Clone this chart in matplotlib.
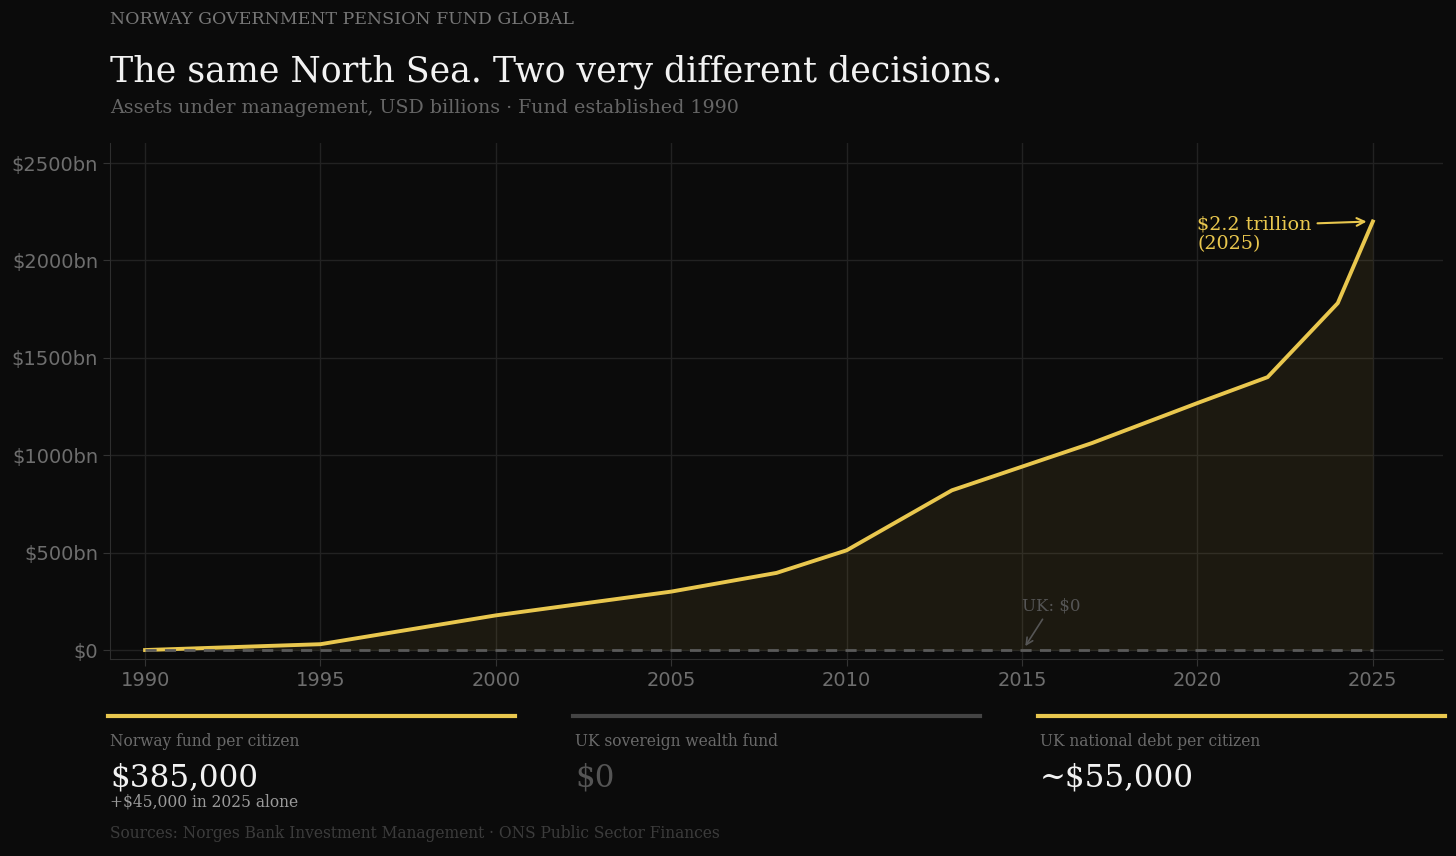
import numpy as np
import matplotlib
matplotlib.use("Agg")
from matplotlib import pyplot as plt
from matplotlib.lines import Line2D

# fund value, USD bn
years = [1990, 1995, 2000, 2005, 2008, 2010, 2013, 2017, 2020, 2022, 2024, 2025]
aum_bn = [0, 30, 178, 300, 396, 512, 820, 1063, 1268, 1401, 1781, 2200]
uk_years = [1990, 2025]
uk_bn = [0, 0]

yticks = [0, 500, 1000, 1500, 2000, 2500]
ytick_labels = ['$0', '$500bn', '$1000bn', '$1500bn', '$2000bn', '$2500bn']
xticks = [1990, 1995, 2000, 2005, 2010, 2015, 2020, 2025]

# stat cards under the chart
card_labels = ['Norway fund per citizen', 'UK sovereign wealth fund', 'UK national debt per citizen']
card_values = ['$385,000', '$0', '~$55,000']
card_notes = ['+$45,000 in 2025 alone', '', '']

BG = '#0b0b0b'
GOLD = '#e9c74e'
GREY = '#5a5a5a'
SERIF = 'DejaVu Serif'

fig = plt.figure(figsize=(14.56, 8.56), dpi=100, facecolor=BG)
ax = fig.add_axes([110/1456, 1 - 659/856, (1443 - 110)/1456, (659 - 143)/856])
ax.set_facecolor(BG)

ax.fill_between(years, aum_bn, 0, color=GOLD, alpha=0.08, lw=0)
ax.plot(years, aum_bn, color=GOLD, lw=2.8, solid_capstyle='projecting', zorder=3)
ax.plot(uk_years, uk_bn, color=GREY, lw=2, ls=(0, (4, 3)), zorder=4)

ax.set_xlim(1989, 2027)
ax.set_ylim(-46, 2603)
ax.set_xticks(xticks)
ax.set_yticks(yticks)
ax.set_yticklabels(ytick_labels)
ax.tick_params(colors='#333333', labelcolor='#6e6e6e', labelsize=14, length=5)
ax.grid(True, color='#222222', lw=1)
ax.set_axisbelow(True)
for side in ['top', 'right']:
    ax.spines[side].set_visible(False)
for side in ['left', 'bottom']:
    ax.spines[side].set_color('#2e2e2e')

ax.annotate('$2.2 trillion\n(2025)', xy=(2024.9, 2200), xytext=(2020, 2136),
            ha='left', va='center', color=GOLD, fontsize=13.8, family=SERIF,
            linespacing=1.1,
            arrowprops=dict(arrowstyle='->', color=GOLD, lw=1.5, relpos=(1.0, 0.78)))
ax.annotate('UK: $0', xy=(2015.05, 8), xytext=(2015, 228),
            ha='left', va='center', color='#555555', fontsize=12, family=SERIF,
            arrowprops=dict(arrowstyle='->', color='#555555', lw=1.2))

# header
fig.text(110/1456, 1 - 19/856, 'NORWAY GOVERNMENT PENSION FUND GLOBAL',
         color='#777777', fontsize=12.5, family=SERIF, va='center')
fig.text(110/1456, 1 - 72/856, 'The same North Sea. Two very different decisions.',
         color='#f2f2f2', fontsize=25, family=SERIF, va='center')
fig.text(110/1456, 1 - 108/856, 'Assets under management, USD billions · Fund established 1990',
         color='#666666', fontsize=13.7, family=SERIF, va='center')

# cards
card_x = [(108, 515), (573, 980), (1038, 1445)]
card_line = [GOLD, '#444444', GOLD]
card_val_color = ['#f2f2f2', '#555555', '#f2f2f2']
for (x0, x1), lc, lab, val, note, vc in zip(card_x, card_line, card_labels,
                                            card_values, card_notes, card_val_color):
    y = 1 - 716/856
    fig.add_artist(Line2D([x0/1456, x1/1456], [y, y], color=lc, lw=3))
    fig.text((x0 + 2)/1456, 1 - 741/856, lab, color='#6a6a6a', fontsize=11.2,
             family=SERIF, va='center')
    fig.text((x0 + 2)/1456, 1 - 778/856, val, color=vc, fontsize=22.3,
             family=SERIF, va='center')
    if note:
        fig.text((x0 + 2)/1456, 1 - 802/856, note, color='#9a9a9a', fontsize=11.2,
                 family=SERIF, va='center')

fig.text(110/1456, 1 - 834/856,
         'Sources: Norges Bank Investment Management · ONS Public Sector Finances',
         color='#3c3c3c', fontsize=11.2, family=SERIF, va='center')

fig.savefig('out.png', dpi=100, facecolor=BG)
